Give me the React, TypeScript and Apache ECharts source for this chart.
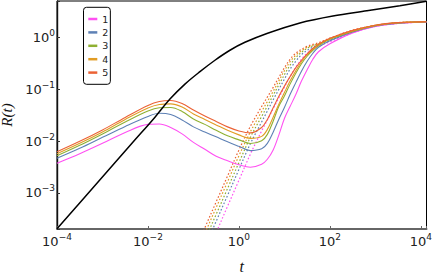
import React, { useEffect, useRef } from 'react';
import * as echarts from 'echarts';

// ---- data (log-log) ----
const seriesNames = ['1', '2', '3', '4', '5'];
const seriesColors = ['#ff50f2', '#5e81b5', '#8fb032', '#e19c24', '#eb6235'];

const xTickExps = [-4, -2, 0, 2, 4];
const yTickExps = [-3, -2, -1, 0];

const tSolid = [1e-4, 3.16e-4, 1e-3, 3.16e-3, 0.01, 0.0178, 0.0316, 0.0562, 0.1, 0.178, 0.316, 0.562, 1, 1.78, 3.16, 4.22, 5.62, 7.5, 10, 13.3, 17.8, 23.7, 31.6, 42.2, 56.2, 100, 316, 1000, 3160, 10000, 13200];

const solid1 = [0.00373, 0.00568, 0.00903, 0.0147, 0.021, 0.0214, 0.0183, 0.01375, 0.00944, 0.00692, 0.00508, 0.00416, 0.00349, 0.00312, 0.00356, 0.00445, 0.00663, 0.0129, 0.0273, 0.0465, 0.0791, 0.144, 0.239, 0.381, 0.531, 0.757, 1.231, 1.642, 1.876, 1.978, 1.987];
const solid2 = [0.00465, 0.00724, 0.0118, 0.0192, 0.0299, 0.0344, 0.0326, 0.0256, 0.0188, 0.015, 0.01205, 0.00965, 0.00791, 0.00654, 0.00708, 0.00903, 0.0147, 0.0262, 0.0445, 0.0791, 0.1346, 0.224, 0.349, 0.497, 0.648, 0.864, 1.287, 1.679, 1.9, 1.995, 2.004];
const solid3 = [0.00519, 0.00827, 0.01375, 0.0234, 0.0381, 0.0439, 0.0445, 0.0373, 0.0267, 0.021, 0.0161, 0.0126, 0.01055, 0.00895, 0.0101, 0.01346, 0.0239, 0.0465, 0.074, 0.1259, 0.205, 0.312, 0.435, 0.568, 0.692, 0.924, 1.316, 1.701, 1.917, 2.004, 2.013];
const solid4 = [0.00568, 0.00903, 0.015, 0.0262, 0.0435, 0.0508, 0.0524, 0.0455, 0.0334, 0.0262, 0.0205, 0.0161, 0.01316, 0.01127, 0.01231, 0.0168, 0.0286, 0.0508, 0.0864, 0.144, 0.229, 0.341, 0.465, 0.593, 0.724, 0.944, 1.346, 1.716, 1.934, 2.004, 2.013];
const solid5 = [0.0062, 0.00987, 0.0164, 0.0286, 0.0486, 0.058, 0.0607, 0.0531, 0.0398, 0.0305, 0.0239, 0.0188, 0.0157, 0.0144, 0.0183, 0.0262, 0.0435, 0.0724, 0.1152, 0.1755, 0.2615, 0.364, 0.486, 0.62, 0.74, 0.965, 1.375, 1.732, 1.943, 2.004, 2.013];

const tDashed = [0.1334, 0.178, 0.316, 0.562, 1, 1.78, 3.16, 4.22, 5.62, 7.5, 10, 13.3, 17.8, 23.7, 31.6, 42.2, 56.2, 100, 316, 1000, 3160, 10000, 13200];

const dashed1 = [3.04e-5, 5.38e-5, 1.7e-4, 5.5e-4, 1.747e-3, 5.55e-3, 0.0157, 0.0256, 0.0416, 0.0677, 0.1102, 0.1755, 0.267, 0.381, 0.497, 0.593, 0.677, 0.827, 1.231, 1.642, 1.876, 1.978, 1.987];
const dashed2 = [5.04e-5, 8.95e-5, 2.82e-4, 8.91e-4, 2.83e-3, 8.84e-3, 0.0234, 0.0381, 0.062, 0.0987, 0.157, 0.245, 0.349, 0.465, 0.568, 0.648, 0.724, 0.884, 1.287, 1.679, 1.9, 1.995, 2.004];
const dashed3 = [6.83e-5, 1.215e-4, 3.83e-4, 1.21e-3, 3.84e-3, 0.0118, 0.0299, 0.0475, 0.0757, 0.1205, 0.192, 0.292, 0.407, 0.519, 0.62, 0.692, 0.757, 0.924, 1.328, 1.709, 1.926, 2.004, 2.013];
const dashed4 = [9.24e-5, 1.64e-4, 5.19e-4, 1.64e-3, 5.21e-3, 0.015, 0.0373, 0.058, 0.0903, 0.144, 0.229, 0.341, 0.455, 0.555, 0.648, 0.708, 0.763, 0.944, 1.357, 1.724, 1.943, 2.004, 2.013];
const dashed5 = [1.19e-4, 2.11e-4, 6.68e-4, 2.11e-3, 6.71e-3, 0.0192, 0.0465, 0.0708, 0.1078, 0.168, 0.2615, 0.381, 0.497, 0.593, 0.677, 0.74, 0.791, 0.974, 1.388, 1.716, 1.934, 2.004, 2.013];

const tBlack = [1e-4, 8.81e-4, 4.75e-3, 0.01426, 0.03045, 0.065, 0.1389, 0.2969, 0.634, 1.355, 4.125, 21.9, 116.4, 650.5, 3455, 13350];
const rBlack = [2.03e-4, 1.786e-3, 9.65e-3, 0.02895, 0.0648, 0.1259, 0.219, 0.364, 0.568, 0.809, 1.199, 1.917, 2.615, 3.29, 4.107, 5.01];

const solidSets = [solid1, solid2, solid3, solid4, solid5];
const dashedSets = [dashed1, dashed2, dashed3, dashed4, dashed5];

const pair = (ts: number[], rs: number[]) => ts.map((t, i) => [t, rs[i]]);

const powLabel = (allowed: number[]) => (v: number) => {
  const e = Math.log10(v);
  const r = Math.round(e);
  if (Math.abs(e - r) > 0.01 || allowed.indexOf(r) < 0) return '';
  return `{b|10}{s|${r < 0 ? '\u2212' + -r : r}}`;
};

const richLabel = {
  b: { fontFamily: 'DejaVu Sans', fontSize: 13, color: '#222', lineHeight: 18 },
  s: { fontFamily: 'DejaVu Sans', fontSize: 9, color: '#222', lineHeight: 10, verticalAlign: 'top' },
};

export default function App() {
  const ref = useRef<HTMLDivElement>(null);
  useEffect(() => {
    const chart = echarts.init(ref.current!, undefined, { renderer: 'svg' });
    const series: any[] = [];
    solidSets.forEach((rs, i) => {
      series.push({
        type: 'line', name: seriesNames[i], data: pair(tSolid, rs), color: seriesColors[i],
        symbol: 'none', showSymbol: false, smooth: 0.35,
        lineStyle: { width: 1.1, color: seriesColors[i] }, z: 3,
      });
    });
    dashedSets.forEach((rs, i) => {
      series.push({
        type: 'line', name: seriesNames[i] + 'd', data: pair(tDashed, rs), color: seriesColors[i],
        symbol: 'none', showSymbol: false, smooth: 0.35,
        lineStyle: { width: 1.2, color: seriesColors[i], type: [1.6, 2] }, z: 2,
      });
    });
    series.push({
      type: 'line', name: 'black', data: pair(tBlack, rBlack), color: '#000',
      symbol: 'none', showSymbol: false, smooth: 0.35,
      lineStyle: { width: 1.5, color: '#000' }, z: 4,
    });
    chart.setOption({
      animation: false,
      backgroundColor: '#fff',
      grid: {
        left: 57, right: 7.5, top: 1, bottom: 48, containLabel: false, outerBoundsMode: 'none',
        show: true, borderColor: '#000', borderWidth: 1, backgroundColor: 'transparent',
      },
      legend: {
        data: seriesNames, orient: 'vertical', left: 83.5, top: 7.3,
        icon: 'rect', itemWidth: 9, itemHeight: 2.5, itemGap: 1.4,
        padding: [5.7, 2, 5.7, 4.8],
        borderColor: '#000', borderWidth: 1, borderRadius: 3, backgroundColor: '#fff',
        textStyle: { fontFamily: 'DejaVu Sans', fontSize: 9.5, color: '#222', lineHeight: 12 },
        selectedMode: false,
      },
      xAxis: {
        type: 'log', logBase: 100, min: 1e-4, max: 13300,
        name: 't', nameLocation: 'middle', nameGap: 29,
        nameTextStyle: { fontFamily: 'Liberation Serif', fontStyle: 'italic', fontSize: 16, color: '#111' },
        axisLine: { show: true, lineStyle: { color: '#666', width: 2 } },
        axisTick: { show: true, inside: true, length: 3, lineStyle: { color: '#666', width: 1 } },
        axisLabel: { formatter: powLabel(xTickExps), rich: richLabel, margin: 3, showMinLabel: true, showMaxLabel: true },
        splitLine: { show: false },
      },
      yAxis: {
        type: 'log', logBase: 10, min: 2e-4, max: 5.08,
        name: 'R(t)', nameLocation: 'middle', nameGap: 39, nameRotate: 90,
        nameTextStyle: { fontFamily: 'Liberation Serif', fontStyle: 'italic', fontSize: 15, color: '#111' },
        axisLine: { show: true, lineStyle: { color: '#111', width: 1.4 } },
        axisTick: { show: true, inside: true, length: 3, lineStyle: { color: '#333', width: 1 } },
        axisLabel: { formatter: powLabel(yTickExps), rich: richLabel, margin: 2 },
        splitLine: { show: false },
      },
      series,
    });
    return () => chart.dispose();
  }, []);
  return <div ref={ref} style={{ position: 'fixed', left: 0, top: 0, width: 434, height: 277, background: '#fff' }} />;
}
